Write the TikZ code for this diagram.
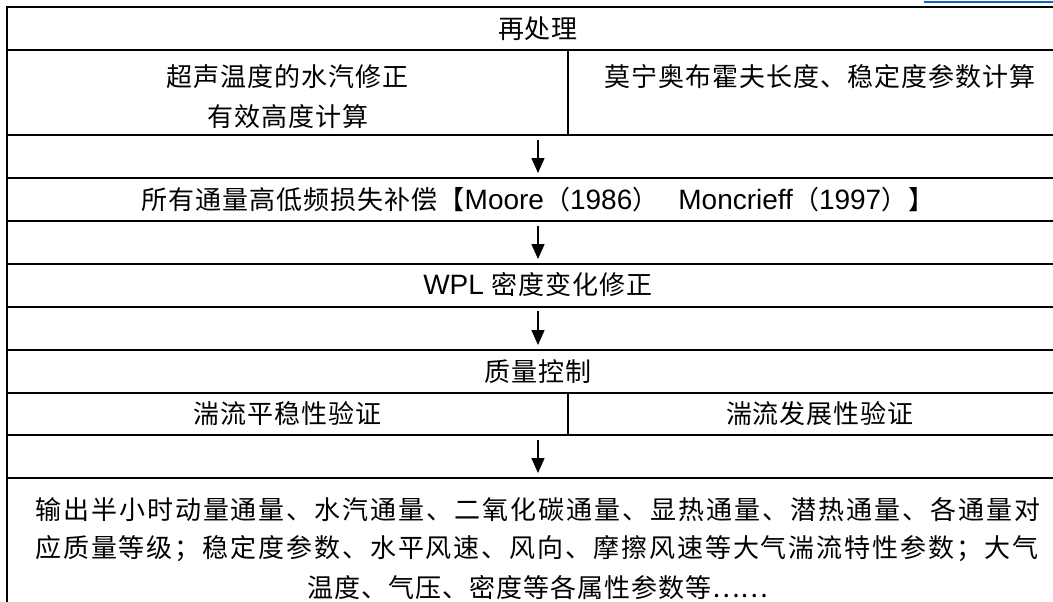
\documentclass[tikz,border=0pt]{standalone}
\usepackage{fontspec}
\setmainfont{Liberation Sans}
\newfontfamily\cjk[LetterSpace=3.85]{Noto Sans CJK SC}
\newfontfamily\cjkN{Noto Sans CJK SC}
\newcommand\lt[1]{{\fontsize{28pt}{30pt}\selectfont #1}}
\usetikzlibrary{arrows.meta}
\definecolor{topblue}{RGB}{23,103,191}
% character class for CJK characters, used to spread justified lines
\newcount\cjkcc
\cjkcc="3000
\loop \XeTeXcharclass\cjkcc=7 \advance\cjkcc by 1 \ifnum\cjkcc<"3040 \repeat
\cjkcc="4E00
\loop \XeTeXcharclass\cjkcc=7 \advance\cjkcc by 1 \ifnum\cjkcc<"A000 \repeat
\cjkcc="FF00
\loop \XeTeXcharclass\cjkcc=7 \advance\cjkcc by 1 \ifnum\cjkcc<"FFF0 \repeat
\XeTeXinterchartoks 7 7 = {\hfil}
\newcommand\spreadline[2]{{\XeTeXinterchartokenstate=1 \hbox to #1{\cjkN #2}}}
\begin{document}
\begin{tikzpicture}[x=1pt,y=-1pt,
  rule/.style={line width=2pt, black},
  lbl/.style={inner sep=0pt, anchor=center, font=\fontsize{26pt}{30pt}\selectfont},
  lblw/.style={inner sep=0pt, anchor=west, font=\fontsize{26pt}{30pt}\selectfont},
  arr/.style={line width=1.6pt, -{Triangle[width=13pt,length=15pt]}}]
\useasboundingbox (0,0) rectangle (1053,602);
\fill[white] (0,0) rectangle (1053,602);
% blue mark at the top right
\coordinate (b1) at (924,2.5);
\coordinate (b2) at (1060,2.5);
\draw[line width=2pt, topblue] (b1) -- (b2);
% table rules
\foreach \yy in {6.7,50,135,178,221,264,306.5,350,393,435,478}{
  \draw[rule] (6.3,\yy) -- (1075,\yy);
}
\draw[rule] (7.3,5.7) -- (7.3,610);
\draw[rule] (568,50) -- (568,135);
\draw[rule] (568,393) -- (568,435);
% texts
\node[lbl] (t1) at (538,28.5) {\cjk 再处理};
\node[lbl] (t2a) at (288,77) {\cjk 超声温度的水汽修正};
\node[lbl] (t2b) at (288,117) {\cjk 有效高度计算};
\node[lbl] (t3) at (820,77) {\cjk 莫宁奥布霍夫长度、稳定度参数计算};
\node[lbl] (t4) at (538,199.5) {{\cjk 所有通量高低频损失补偿【}\lt{Moore}{\cjk （}\lt{1986}{\cjk ）}\hspace{20pt}\lt{Moncrieff}{\cjk （}\lt{1997}{\cjk ）】}};
\node[lbl] (t5) at (538,285) {\lt{WPL }{\cjk 密度变化修正}};
\node[lbl] (t6) at (538,371.5) {\cjk 质量控制};
\node[lbl] (t7) at (288,414) {\cjk 湍流平稳性验证};
\node[lbl] (t8) at (820,414) {\cjk 湍流发展性验证};
\node[lblw] (t9) at (35,510) {\spreadline{1005pt}{输出半小时动量通量、水汽通量、二氧化碳通量、显热通量、潜热通量、各通量对}};
\node[lblw] (t10) at (35,549) {\spreadline{1003pt}{应质量等级；稳定度参数、水平风速、风向、摩擦风速等大气湍流特性参数；大气}};
\node[lbl] (t11) at (538,588) {\cjk 温度、气压、密度等各属性参数等……};
% arrows
\coordinate (a1s) at (538,140); \coordinate (a1e) at (538,173);
\coordinate (a2s) at (538,226); \coordinate (a2e) at (538,259);
\coordinate (a3s) at (538,311); \coordinate (a3e) at (538,345);
\coordinate (a4s) at (538,440); \coordinate (a4e) at (538,473);
\draw[arr] (a1s) -- (a1e);
\draw[arr] (a2s) -- (a2e);
\draw[arr] (a3s) -- (a3e);
\draw[arr] (a4s) -- (a4e);
\end{tikzpicture}
\end{document}
